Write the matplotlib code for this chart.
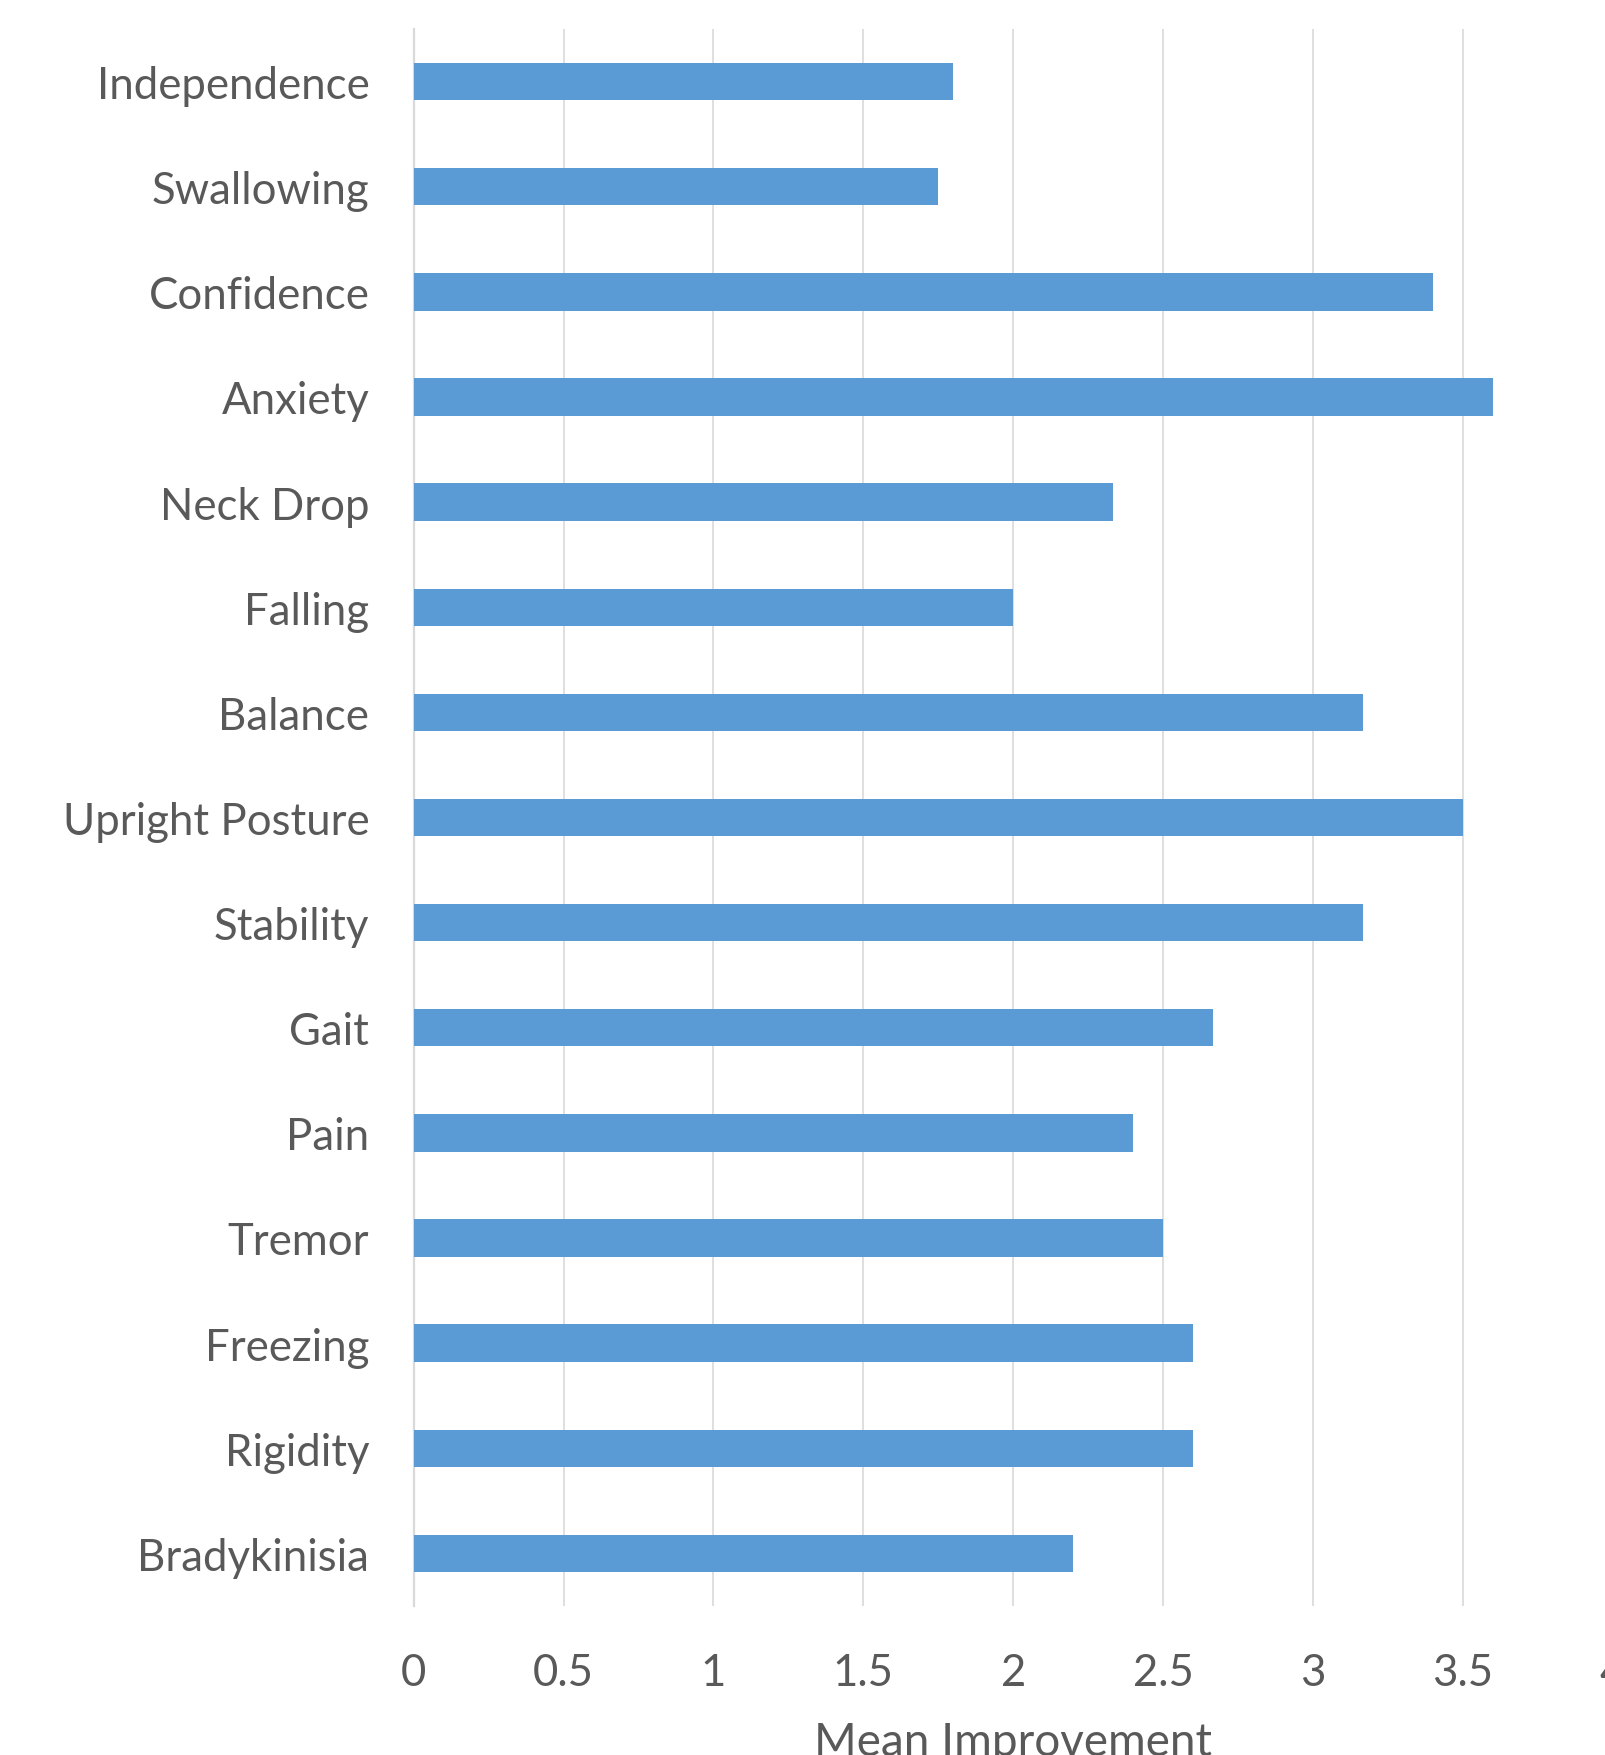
import matplotlib
matplotlib.use("Agg")
import matplotlib.pyplot as plt
import numpy as np

# Mean improvement per symptom/outcome (top to bottom as listed)
categories = [
    "Independence", "Swallowing", "Confidence", "Anxiety", "Neck Drop",
    "Falling", "Balance", "Upright Posture", "Stability", "Gait",
    "Pain", "Tremor", "Freezing", "Rigidity", "Bradykinisia",
]
values = [1.8, 1.75, 3.4, 3.6, 2.333, 2.0, 3.167, 3.5, 3.167, 2.667,
          2.4, 2.5, 2.6, 2.6, 2.2]
xticks = [0, 0.5, 1, 1.5, 2, 2.5, 3, 3.5, 4]
xtick_labels = ["0", "0.5", "1", "1.5", "2", "2.5", "3", "3.5", "4"]

plt.rcParams["font.family"] = ["Lato", "DejaVu Sans"]
text_color = "#595959"
grid_color = "#D9D9D9"
bar_color = "#5B9BD5"

fig = plt.figure(figsize=(16.05, 17.56), dpi=100)
ax = fig.add_axes([0.2578, 0.0849, 0.7469, 0.8980])

y = np.arange(len(categories))
ax.barh(y, values, height=0.355, color=bar_color, zorder=3)
ax.set_ylim(len(categories) - 0.5, -0.5)
ax.set_xlim(0, 4)

ax.set_yticks(y)
ax.set_yticklabels(categories, fontsize=31.5, color=text_color)
ax.set_xticks(xticks)
ax.set_xticklabels(xtick_labels, fontsize=31.5, color=text_color)
ax.tick_params(axis="y", length=0, pad=32)
ax.tick_params(axis="x", length=0, pad=33.5)

ax.grid(axis="x", color=grid_color, linewidth=1.2, zorder=0)
for side in ["top", "right", "bottom"]:
    ax.spines[side].set_visible(False)
ax.spines["left"].set_color(grid_color)
ax.spines["left"].set_linewidth(1.6)

ax.set_xlabel("Mean Improvement", fontsize=33, color=text_color, labelpad=20)

fig.savefig("out.png", dpi=100)
